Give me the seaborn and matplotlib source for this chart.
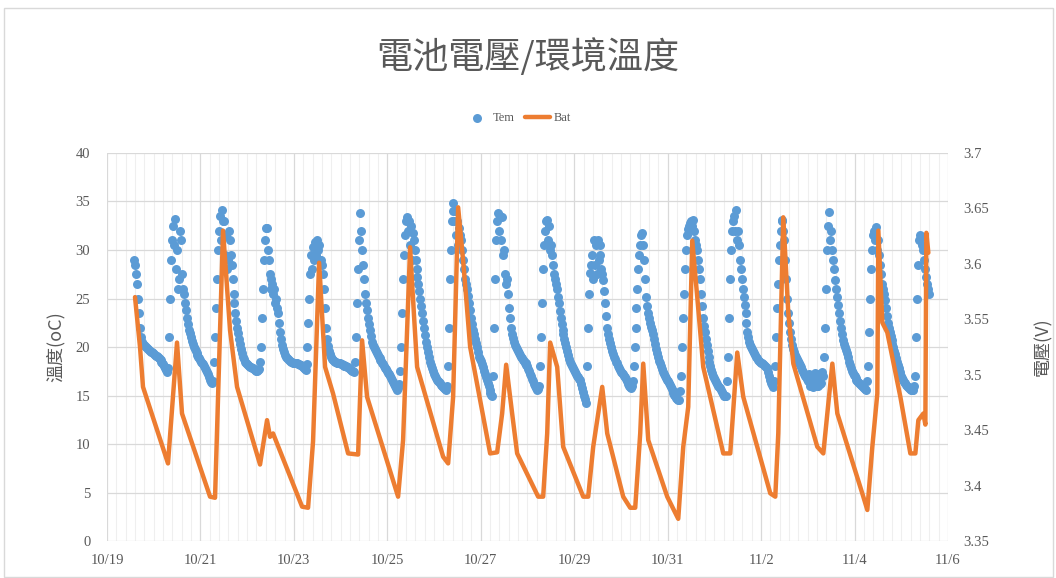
import pandas as pd
import matplotlib
matplotlib.use("Agg")
import matplotlib.pyplot as plt
import matplotlib.dates as mdates
from matplotlib.patches import Rectangle
from matplotlib.ticker import FuncFormatter, FixedLocator
import seaborn as sns

YEAR = 2019

# Ambient temperature readings (°C) every 30 minutes, one list per day.
# 10/19 starts at 14:00 and 11/5 ends at 14:00; other days run 00:00-23:30.
tem_1019 = [29.0, 28.5, 27.5, 26.5, 25.0, 23.5, 22.0, 21.0, 20.5, 20.3,
            20.2, 20.1, 20.0, 19.9, 19.8, 19.7, 19.6, 19.5, 19.5, 19.4]
tem_1020 = [19.3, 19.2, 19.1, 19.1, 19.0, 18.9, 18.8, 18.7, 18.5, 18.4, 18.2, 18.0,
            17.8, 17.6, 17.4, 17.8, 21.0, 25.0, 29.0, 31.0, 32.5, 30.5, 33.2, 28.0,
            30.0, 26.0, 27.0, 32.0, 31.0, 27.5, 26.0, 25.5, 24.5, 23.8, 23.0, 22.4,
            21.8, 21.4, 21.0, 20.6, 20.3, 20.0, 19.8, 19.6, 19.4, 19.2, 19.0, 18.9]
tem_1021 = [18.7, 18.5, 18.4, 18.2, 18.0, 17.8, 17.6, 17.4, 17.2, 16.9, 16.6, 16.4,
            16.3, 16.5, 18.5, 21.0, 24.0, 27.0, 30.0, 32.0, 33.5, 31.0, 34.1, 33.0,
            33.0, 29.5, 31.5, 28.0, 29.0, 32.0, 31.0, 29.5, 28.5, 27.0, 25.5, 24.5,
            23.5, 22.7, 22.0, 21.4, 20.8, 20.3, 19.8, 19.4, 19.0, 18.8, 18.5, 18.3]
tem_1022 = [18.2, 18.1, 18.0, 17.9, 17.9, 17.8, 17.8, 17.7, 17.6, 17.5, 17.5, 17.6,
            17.7, 18.5, 20.0, 23.0, 26.0, 29.0, 31.0, 32.3, 32.3, 30.0, 29.0, 27.5,
            27.0, 26.0, 26.5, 25.5, 26.0, 24.5, 25.0, 24.0, 23.5, 22.5, 21.5, 20.8,
            20.2, 19.8, 19.5, 19.2, 19.0, 18.9, 18.8, 18.7, 18.6, 18.5, 18.5, 18.4]
tem_1023 = [18.4, 18.4, 18.3, 18.3, 18.2, 18.2, 18.1, 18.1, 18.0, 17.9, 17.8, 17.7,
            17.6, 18.2, 20.0, 22.5, 25.0, 27.5, 29.5, 28.0, 30.3, 29.0, 30.8, 29.5,
            31.0, 30.0, 30.5, 29.0, 29.0, 28.5, 27.5, 26.0, 24.0, 22.0, 20.8, 20.1,
            19.6, 19.3, 19.0, 18.8, 18.7, 18.6, 18.5, 18.5, 18.4, 18.4, 18.3, 18.3]
tem_1024 = [18.2, 18.2, 18.1, 18.1, 18.0, 18.0, 18.0, 17.9, 17.9, 17.8, 17.7, 17.6,
            17.5, 17.5, 17.4, 18.5, 21.0, 24.5, 28.0, 31.0, 33.8, 32.0, 30.0, 28.5,
            27.0, 25.5, 24.5, 23.8, 23.0, 22.4, 21.8, 21.1, 20.5, 20.2, 20.0, 19.8,
            19.6, 19.4, 19.2, 19.0, 18.9, 18.7, 18.6, 18.4, 18.2, 18.0, 17.8, 17.7]
tem_1025 = [17.5, 17.3, 17.2, 17.0, 16.8, 16.6, 16.4, 16.2, 16.0, 15.8, 15.6, 15.8,
            16.2, 17.5, 20.0, 23.5, 27.0, 29.5, 31.5, 33.0, 33.4, 32.0, 33.0, 30.5,
            32.5, 29.0, 31.8, 31.0, 30.0, 29.0, 28.0, 27.2, 26.5, 25.8, 25.0, 24.2,
            23.5, 22.7, 22.0, 21.2, 20.5, 20.0, 19.5, 19.0, 18.5, 18.1, 17.8, 17.5]
tem_1026 = [17.2, 17.0, 16.8, 16.6, 16.5, 16.4, 16.3, 16.1, 16.0, 15.9, 15.8, 15.7,
            15.6, 16.0, 18.0, 22.0, 27.0, 30.0, 33.0, 34.0, 34.8, 33.0, 34.0, 31.5,
            33.0, 30.5, 32.3, 31.5, 31.0, 30.0, 29.0, 28.0, 27.0, 26.5, 26.0, 25.3,
            24.5, 23.8, 23.0, 22.4, 21.8, 21.3, 20.8, 20.4, 20.0, 19.5, 19.0, 18.8]
tem_1027 = [18.6, 18.2, 17.9, 17.5, 17.2, 16.9, 16.6, 16.3, 16.0, 15.6, 15.3, 15.1,
            15.0, 17.0, 22.0, 27.0, 31.0, 33.0, 33.8, 32.0, 33.5, 31.0, 33.4, 29.5,
            30.0, 27.5, 26.5, 27.0, 25.5, 24.0, 23.0, 22.0, 21.3, 20.9, 20.5, 20.2,
            20.0, 19.8, 19.6, 19.4, 19.2, 19.0, 18.9, 18.7, 18.6, 18.4, 18.3, 18.1]
tem_1028 = [18.0, 17.7, 17.5, 17.2, 17.0, 16.7, 16.5, 16.2, 16.0, 15.8, 15.6, 15.7,
            16.0, 18.0, 21.0, 24.5, 28.0, 30.5, 32.0, 33.0, 33.1, 31.0, 32.5, 30.0,
            30.5, 29.5, 28.5, 27.5, 27.0, 26.5, 26.0, 25.2, 24.5, 23.7, 23.0, 22.4,
            21.8, 21.3, 20.8, 20.4, 20.0, 19.6, 19.2, 18.8, 18.5, 18.2, 18.0, 17.8]
tem_1029 = [17.6, 17.4, 17.2, 17.0, 16.9, 16.7, 16.6, 16.2, 15.8, 15.4, 15.0, 14.6,
            14.2, 18.0, 22.0, 25.5, 27.6, 28.5, 29.5, 27.0, 31.0, 28.5, 30.5, 27.5,
            31.0, 29.0, 30.5, 29.5, 28.0, 27.5, 26.9, 25.8, 24.5, 23.2, 22.0, 21.3,
            20.8, 20.4, 20.0, 19.6, 19.3, 19.0, 18.8, 18.5, 18.3, 18.0, 17.8, 17.6]
tem_1030 = [17.4, 17.3, 17.2, 17.0, 16.9, 16.7, 16.5, 16.2, 16.0, 15.9, 15.8, 16.0,
            16.5, 18.0, 20.0, 22.0, 24.0, 26.0, 28.0, 29.5, 30.5, 31.5, 31.8, 30.5,
            29.0, 27.0, 25.2, 24.2, 23.5, 23.0, 22.5, 22.1, 21.8, 21.3, 20.8, 20.3,
            19.8, 19.4, 19.0, 18.6, 18.3, 18.0, 17.7, 17.4, 17.2, 17.0, 16.8, 16.6]
tem_1031 = [16.5, 16.3, 16.1, 15.9, 15.7, 15.5, 15.3, 15.1, 14.9, 14.7, 14.6, 14.5,
            14.5, 15.5, 17.0, 20.0, 23.0, 25.5, 28.0, 30.0, 31.5, 32.2, 32.5, 32.8,
            33.0, 32.5, 33.1, 32.0, 31.0, 30.5, 30.0, 29.0, 28.0, 27.0, 25.5, 24.2,
            23.0, 22.2, 21.5, 20.8, 20.2, 19.6, 19.0, 18.5, 18.0, 17.6, 17.3, 17.0]
tem_1101 = [16.8, 16.6, 16.4, 16.2, 16.0, 15.9, 15.8, 15.6, 15.4, 15.2, 15.0, 14.9,
            14.9, 16.5, 19.0, 23.0, 27.0, 30.0, 32.0, 33.0, 33.5, 32.0, 34.1, 31.0,
            32.0, 30.5, 29.0, 28.0, 27.0, 26.0, 25.2, 24.3, 23.5, 22.5, 21.5, 21.0,
            20.5, 20.2, 20.0, 19.8, 19.6, 19.4, 19.2, 19.0, 18.9, 18.7, 18.6, 18.5]
tem_1102 = [18.4, 18.3, 18.2, 18.1, 18.0, 17.9, 17.8, 17.4, 17.0, 16.6, 16.3, 16.1,
            15.9, 16.5, 18.0, 21.0, 24.0, 26.5, 29.0, 30.5, 32.0, 33.0, 33.1, 32.0,
            31.0, 29.0, 27.0, 25.0, 23.5, 22.5, 21.5, 20.8, 20.2, 19.8, 19.5, 19.2,
            19.0, 18.8, 18.6, 18.3, 18.1, 17.9, 17.6, 17.4, 17.2, 17.0, 16.9, 16.7]
tem_1103 = [16.5, 17.2, 16.0, 16.6, 17.0, 15.9, 16.2, 17.3, 16.8, 16.0, 16.0, 17.0,
            17.2, 16.2, 16.3, 17.4, 17.0, 19.0, 22.0, 26.0, 30.0, 32.5, 33.9, 31.0,
            32.0, 30.0, 29.0, 28.0, 26.9, 26.0, 25.2, 24.3, 23.5, 22.7, 22.0, 21.3,
            20.7, 20.3, 20.0, 19.7, 19.4, 19.0, 18.5, 18.1, 17.8, 17.5, 17.3, 17.1]
tem_1104 = [17.0, 16.8, 16.6, 16.5, 16.4, 16.3, 16.2, 16.1, 16.0, 15.9, 15.8, 15.7,
            15.6, 16.5, 18.0, 21.5, 25.0, 28.0, 30.0, 31.5, 32.0, 31.0, 32.4, 30.0,
            31.0, 29.5, 28.5, 27.5, 26.5, 26.0, 25.5, 24.8, 24.0, 23.2, 22.5, 22.0,
            21.5, 21.1, 20.7, 20.3, 20.0, 19.6, 19.3, 18.9, 18.5, 18.1, 17.8, 17.4]
tem_1105 = [17.0, 16.8, 16.6, 16.4, 16.3, 16.1, 16.0, 15.9, 15.8, 15.7, 15.6, 15.6,
            15.6, 16.0, 17.0, 21.0, 25.0, 28.5, 31.0, 31.5, 31.3, 30.5, 30.0, 29.0,
            28.0, 27.2, 26.5, 26.0, 25.5]

tem_by_day = [
    ("10-19", 14, tem_1019), ("10-20", 0, tem_1020), ("10-21", 0, tem_1021),
    ("10-22", 0, tem_1022), ("10-23", 0, tem_1023), ("10-24", 0, tem_1024),
    ("10-25", 0, tem_1025), ("10-26", 0, tem_1026), ("10-27", 0, tem_1027),
    ("10-28", 0, tem_1028), ("10-29", 0, tem_1029), ("10-30", 0, tem_1030),
    ("10-31", 0, tem_1031), ("11-01", 0, tem_1101), ("11-02", 0, tem_1102),
    ("11-03", 0, tem_1103), ("11-04", 0, tem_1104), ("11-05", 0, tem_1105),
]

# Battery voltage (V): turning points of the trace, time in days since 10/19 00:00
bat_days = [0.600, 0.707, 0.771, 1.306, 1.499, 1.606, 2.206, 2.313, 2.484, 2.634,
            2.784, 3.276, 3.426, 3.490, 3.555, 4.176, 4.304, 4.411, 4.540, 4.668,
            4.839, 5.161, 5.375, 5.460, 5.567, 6.231, 6.338, 6.488, 6.552, 6.638,
            7.195, 7.302, 7.409, 7.516, 7.623, 7.773, 8.201, 8.351, 8.458, 8.544,
            8.672, 8.779, 9.229, 9.336, 9.422, 9.486, 9.636, 9.764, 10.193, 10.300,
            10.407, 10.600, 10.707, 11.049, 11.199, 11.306, 11.413, 11.478, 11.585,
            11.991, 12.227, 12.334, 12.441, 12.527, 12.634, 12.762, 13.191, 13.340,
            13.490, 13.619, 14.197, 14.304, 14.368, 14.475, 14.582, 14.690, 15.203,
            15.332, 15.525, 15.632, 16.188, 16.274, 16.381, 16.488, 16.510, 16.595,
            16.702, 16.981, 17.195, 17.302, 17.366, 17.473, 17.516, 17.537, 17.580]
bat_v = [3.570, 3.525, 3.489, 3.420, 3.529, 3.465, 3.390, 3.389, 3.630, 3.540,
         3.489, 3.419, 3.459, 3.444, 3.447, 3.381, 3.380, 3.440, 3.601, 3.507,
         3.483, 3.429, 3.428, 3.531, 3.480, 3.390, 3.441, 3.615, 3.567, 3.507,
         3.426, 3.420, 3.480, 3.651, 3.603, 3.525, 3.429, 3.430, 3.465, 3.509,
         3.465, 3.429, 3.390, 3.390, 3.447, 3.529, 3.507, 3.435, 3.390, 3.390,
         3.435, 3.489, 3.447, 3.390, 3.380, 3.380, 3.447, 3.510, 3.441,
         3.390, 3.370, 3.435, 3.471, 3.621, 3.570, 3.507, 3.429, 3.429,
         3.520, 3.480, 3.393, 3.390, 3.447, 3.642, 3.556, 3.510, 3.435,
         3.429, 3.510, 3.465, 3.390, 3.378, 3.435, 3.483, 3.630, 3.547,
         3.538, 3.480, 3.429, 3.429, 3.459, 3.465, 3.455, 3.628, 3.610]

x_start, x_end = f"{YEAR}-10-19", f"{YEAR}-11-06"
temp_ticks = list(range(0, 45, 5))
volt_ticks = [3.35, 3.40, 3.45, 3.50, 3.55, 3.60, 3.65, 3.70]

# ---- assemble tables ----
frames = []
for day, first_hour, vals in tem_by_day:
    t0 = pd.Timestamp(f"{YEAR}-{day} {first_hour:02d}:00")
    frames.append(pd.DataFrame({"time": pd.date_range(t0, periods=len(vals), freq="30min"),
                                "Tem": vals}))
tem = pd.concat(frames, ignore_index=True)
bat = pd.DataFrame({"time": pd.Timestamp(x_start) + pd.to_timedelta(bat_days, unit="D"),
                    "Bat": bat_v})

BLUE, ORANGE = "#5B9BD5", "#ED7D31"
TXT, GRID, MINOR = "#595959", "#D9D9D9", "#EFEFEF"

sns.set_theme(style="white")
plt.rcParams["font.family"] = ["Liberation Serif", "Noto Sans CJK TC", "DejaVu Sans"]
cjk = ["Noto Sans CJK TC", "DejaVu Sans"]

fig = plt.figure(figsize=(10.56, 5.78), dpi=100)
fig.add_artist(Rectangle((0.004, 0.002), 0.993, 0.984, transform=fig.transFigure,
                         fill=False, ec=GRID, lw=1.0))
ax = fig.add_axes([0.1013, 0.064, 0.7964, 0.6713])
ax2 = ax.twinx()

sns.scatterplot(data=tem, x="time", y="Tem", ax=ax, color=BLUE, s=42,
                linewidth=0, label="Tem", zorder=3)
sns.lineplot(data=bat, x="time", y="Bat", ax=ax2, color=ORANGE, lw=3.2,
             estimator=None, sort=False, label="Bat")

# axes ranges and ticks
xmin, xmax = mdates.date2num(pd.Timestamp(x_start)), mdates.date2num(pd.Timestamp(x_end))
ax.set_xlim(xmin, xmax)
ax.xaxis.set_major_locator(FixedLocator(mdates.date2num(pd.date_range(x_start, x_end, freq="2D"))))
ax.xaxis.set_minor_locator(FixedLocator(mdates.date2num(pd.date_range(x_start, x_end, freq="288min"))))
ax.xaxis.set_major_formatter(FuncFormatter(
    lambda v, p: f"{mdates.num2date(v).month}/{mdates.num2date(v).day}"))
ax.set_ylim(0, 40)
ax.set_yticks(temp_ticks)
ax2.set_ylim(3.35, 3.70)
ax2.set_yticks(volt_ticks)
ax2.yaxis.set_major_formatter(FuncFormatter(lambda v, p: f"{v:g}"))

ax.set_axisbelow(True)
ax.grid(which="major", axis="both", color=GRID, lw=0.9)
ax.grid(which="minor", axis="x", color=MINOR, lw=0.8)
ax2.grid(False)
for a in (ax, ax2):
    for s in a.spines.values():
        s.set_visible(False)
ax.tick_params(axis="x", which="both", length=0, pad=9, labelsize=10.5, labelcolor=TXT)
ax.tick_params(axis="y", length=0, pad=12, labelsize=10.5, labelcolor=TXT)
ax2.tick_params(axis="y", length=0, pad=11, labelsize=10.5, labelcolor=TXT)

ax.set_xlabel("")
ax.set_ylabel("溫度(oC)", family=cjk, fontsize=13, color=TXT, labelpad=8)
ax2.set_ylabel("電壓(V)", family=cjk, fontsize=13, color=TXT, rotation=90, labelpad=32)

fig.suptitle("電池電壓/環境溫度", family=cjk, fontsize=26, color=TXT, y=0.902, va="center")

h1, l1 = ax.get_legend_handles_labels()
h2, l2 = ax2.get_legend_handles_labels()
ax.get_legend().remove()
ax2.get_legend().remove()
fig.legend(h1 + h2, l1 + l2, loc="center", bbox_to_anchor=(0.49, 0.796), ncol=2,
           frameon=False, fontsize=9, handlelength=2.0, columnspacing=0.8,
           handletextpad=0.3, labelcolor=TXT)

fig.savefig("out.png", dpi=100)
